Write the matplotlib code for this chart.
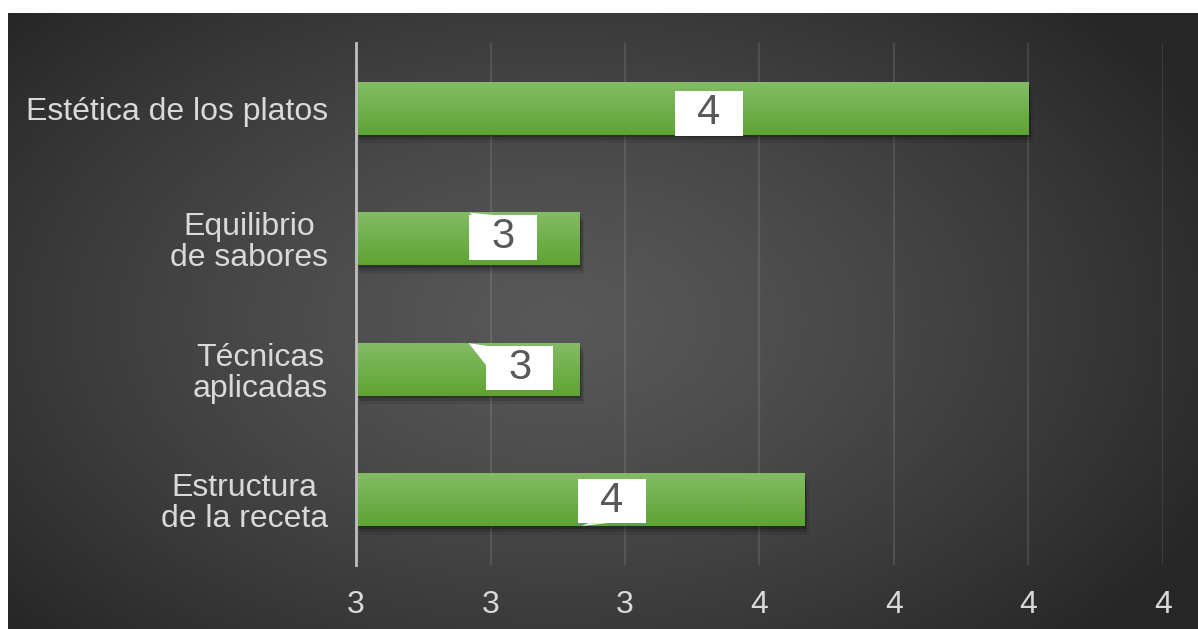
import numpy as np
import matplotlib.pyplot as plt
from matplotlib.patches import Rectangle, Polygon
from matplotlib import patheffects as pe

plt.rcParams['font.family'] = ['Liberation Sans', 'DejaVu Sans']

# average scores per criterion (top to bottom)
categories = ['Estética de los platos', 'Equilibrio\nde sabores', 'Técnicas\naplicadas', 'Estructura\nde la receta']
scores = [4.0, 3.333, 3.333, 3.667]
label_text = ['4', '3', '3', '4']
xticks = [3.0, 3.2, 3.4, 3.6, 3.8, 4.0, 4.2]
xtick_labels = ['3', '3', '3', '4', '4', '4', '4']

# callout placement: box centre offset from bar middle (x, y) and pointer tip (dx, dy) from box centre
box_off = [(0.025, 0.04), (0.052, -0.01), (0.077, -0.01), (0.047, 0.01)]
tip_off = [None, (-0.05, -0.19), (-0.076, -0.19), (-0.045, 0.19)]

W, H = 1198, 629
fig = plt.figure(figsize=(W / 100, H / 100), dpi=100)
fig.patch.set_facecolor('white')

# dark radial background
bg = fig.add_axes([8 / W, 0, 1 - 8 / W, 1 - 13 / H])
bg.set_axis_off()
yy, xx = np.mgrid[0:1:300j, 0:1:600j]
r = np.sqrt(((xx - 0.46) / 0.62) ** 2 + ((yy - 0.5) / 0.75) ** 2)
r = np.clip(r, 0, 1)
shade = 0.345 - (0.345 - 0.15) * r ** 1.3
bg.imshow(np.dstack([shade] * 3), extent=[0, 1, 0, 1], aspect='auto')
bg.set_xlim(0, 1)
bg.set_ylim(0, 1)

ax = fig.add_axes([356 / W, 1 - 565 / H, (1163 - 356) / W, (565 - 43) / H])
ax.patch.set_alpha(0)

ypos = np.arange(len(categories))
bar_h = 0.405
soft_shadow = [pe.SimplePatchShadow(offset=(1, -2), alpha=0.22, shadow_rgbFace='black'),
               pe.SimplePatchShadow(offset=(2, -4), alpha=0.15, shadow_rgbFace='black'),
               pe.SimplePatchShadow(offset=(3, -6), alpha=0.08, shadow_rgbFace='black'),
               pe.Normal()]
bars = ax.barh(ypos, np.array(scores) - 3.0, left=3.0, height=bar_h, color='#70ad47',
               zorder=3, path_effects=soft_shadow)

# vertical green gradient inside each bar
grad = np.linspace(0, 1, 100).reshape(-1, 1)
top = np.array([0x84, 0xbc, 0x66]) / 255
bot = np.array([0x5e, 0xa3, 0x32]) / 255
gimg = top + (bot - top) * grad[..., None]
for b in bars:
    x0, y0 = b.get_x(), b.get_y()
    im = ax.imshow(gimg, extent=[x0, x0 + b.get_width(), y0 + b.get_height(), y0],
                   aspect='auto', zorder=4, interpolation='bilinear')
    im.set_clip_path(b)
ax.set_xlim(3.0, 4.2)
ax.set_ylim(len(categories) - 0.5, -0.5)

ax.set_xticks(xticks)
ax.set_xticklabels(xtick_labels)
ax.set_yticks(ypos)
ax.set_yticklabels(categories, multialignment='center', linespacing=1.05)
ax.tick_params(axis='both', length=0, labelsize=23, labelcolor='#d9d9d9')
ax.tick_params(axis='x', pad=18)
ax.tick_params(axis='y', pad=20)
ax.grid(axis='x', color='#ffffff', alpha=0.1, linewidth=1.6, zorder=1)
for s in ['top', 'right', 'bottom']:
    ax.spines[s].set_visible(False)
ax.spines['left'].set_color('#bfbfbf')
ax.spines['left'].set_linewidth(2)
ax.spines['left'].set_zorder(5)

# white callout boxes with value labels
bw, bh = 0.1, 0.34
for i, (v, txt) in enumerate(zip(scores, label_text)):
    cx = (3.0 + v) / 2 + box_off[i][0]
    cy = ypos[i] + box_off[i][1]
    ax.add_patch(Rectangle((cx - bw / 2, cy - bh / 2), bw, bh, facecolor='white',
                           edgecolor='none', zorder=6))
    if tip_off[i] is not None:
        tx, ty = cx + tip_off[i][0], cy + tip_off[i][1]
        if ty < cy:
            if abs(tip_off[i][0]) > 0.06:
                pts = [(tx, ty), (cx - bw / 2, cy - bh / 2), (cx - bw / 2, cy - bh / 2 + 0.15)]
            else:
                pts = [(tx, ty), (cx - bw / 2 + 0.005, cy - bh / 2), (cx - bw / 2 + 0.04, cy - bh / 2)]
        else:
            pts = [(tx, ty), (cx - bw / 2 + 0.015, cy + bh / 2), (cx - bw / 2 + 0.045, cy + bh / 2)]
        ax.add_patch(Polygon(pts, closed=True, facecolor='white', edgecolor='none', zorder=6))
    ax.text(cx, cy, txt, ha='center', va='center', fontsize=30, color='#595959', zorder=7)

fig.savefig('out.png', dpi=100)
